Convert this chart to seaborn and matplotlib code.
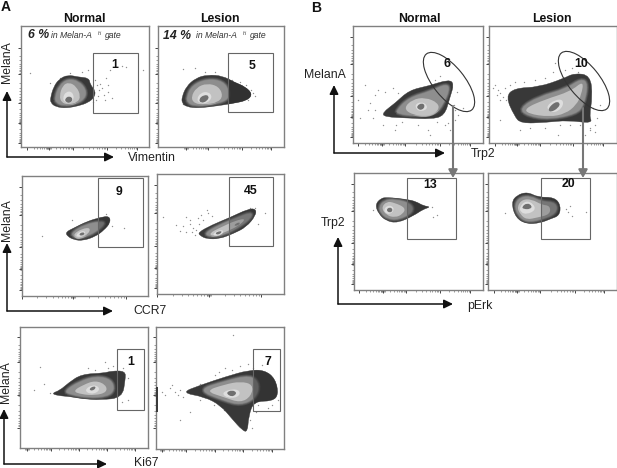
import numpy as np
import pandas as pd
import matplotlib
matplotlib.use("Agg")
import matplotlib.pyplot as plt
from matplotlib.path import Path
from matplotlib.patches import PathPatch, Rectangle, Ellipse
import seaborn as sns

# everything below is read off the 617x468 picture, in picture pixels
# blob = [outer, mid, light, ring, core]
a1n_blob = [
    [(52,97),(55,87),(60,80),(68,76),(78,78),(88,79),(89,85),(94,91),(93,97),(87,102),(78,105),(67,107),(57,106),(52,102)],
    [(56,97),(60,86),(68,80),(78,82),(85,90),(84,98),(76,103),(64,105),(57,102)],
    [(60,96),(63,86),(69,83),(76,87),(80,96),(77,102),(68,104),(62,102)],
    [(63,98),(66,92),(72,92),(74,99),(70,103),(65,102)],
    [(65,99),(69,96),(73,99),(70,103),(66,102)],
]
a1l_blob = [
    [(184,97),(188,87),(197,79),(208,76),(222,77),(233,83),(243,87),(250,94),(245,100),(230,103),(217,105),(200,107),(188,106),(184,102)],
    [(188,97),(193,86),(207,80),(222,82),(228,92),(226,100),(210,104),(195,105),(189,102)],
    [(192,97),(197,88),(207,84),(218,87),(222,96),(217,102),(205,104),(195,103)],
    [(197,99),(201,93),(208,92),(212,97),(207,103),(200,103)],
    [(199,99),(204,95),(209,96),(207,101),(201,103)],
]
a2n_blob = [
    [(67,232),(75,228),(87,222),(100,218),(108,217),(109,223),(103,230),(95,236),(83,240),(75,239),(69,236)],
    [(72,233),(85,225),(100,222),(104,224),(95,232),(83,237),(76,237)],
    [(74,234),(82,229),(90,228),(88,234),(80,238),(76,237)],
    [(76,235),(81,231),(86,232),(83,236),(78,237)],
    [(79,234),(83,232),(85,234),(81,236)],
]
a2l_blob = [
    [(200,232),(213,225),(230,218),(247,210),(254,210),(254,216),(245,227),(233,233),(220,238),(208,238),(202,235)],
    [(206,233),(220,225),(235,219),(250,213),(250,218),(240,226),(225,234),(212,236)],
    [(210,233),(222,227),(235,221),(245,219),(238,226),(225,232),(214,236)],
    [(213,234),(219,230),(224,231),(221,235),(215,236)],
    [(215,233),(220,231),(222,232),(218,235)],
]
a3n_blob = [
    [(54,393),(62,390),(70,383),(82,375),(103,374),(110,372),(123,372),(123,380),(120,397),(100,399),(83,398),(72,396),(60,395)],
    [(66,391),(80,382),(96,377),(110,380),(113,390),(106,396),(88,397),(72,394)],
    [(74,391),(84,385),(95,381),(105,385),(106,392),(95,395),(82,394)],
    [(85,390),(92,385),(99,387),(98,392),(90,394)],
    [(89,389),(94,386),(96,388),(92,391)],
]
a3l_blob = [
    [(185,393),(203,386),(227,378),(248,372),(263,372),(273,380),(276,395),(270,401),(253,401),(248,415),(247,430),(242,428),(233,418),(222,405),(207,397)],
    [(200,390),(225,382),(250,376),(258,385),(254,398),(240,404),(225,400)],
    [(207,391),(225,385),(240,382),(252,385),(250,396),(240,402),(225,397)],
    [(222,393),(232,389),(240,391),(238,397),(228,398)],
    [(226,393),(232,390),(237,393),(232,397)],
]
b1n_blob = [
    [(385,112),(397,103),(410,91),(428,87),(447,81),(452,85),(448,98),(443,115),(430,118),(410,117),(387,116)],
    [(398,110),(410,98),(430,92),(445,85),(448,90),(442,104),(435,113),(415,115),(400,113)],
    [(405,108),(413,100),(425,98),(437,103),(438,110),(428,116),(412,114)],
    [(415,105),(421,102),(427,105),(426,110),(418,111)],
    [(417,106),(422,103),(425,106),(422,110),(418,109)],
]
b1l_blob = [
    [(509,97),(517,89),(540,88),(563,80),(573,75),(588,77),(590,97),(587,115),(590,122),(567,119),(547,121),(523,122),(517,115)],
    [(522,108),(540,97),(565,90),(580,80),(586,85),(582,105),(575,113),(550,118),(530,115)],
    [(527,108),(545,100),(570,92),(582,82),(580,95),(575,105),(565,113),(550,116),(530,113)],
    [(546,107),(555,100),(563,100),(562,108),(553,113)],
    [(548,109),(555,102),(560,103),(558,108),(551,112)],
]
b2n_blob = [
    [(377,205),(382,199),(388,198),(407,200),(415,202),(422,206),(429,207),(422,209),(413,215),(398,222),(387,220),(380,213)],
    [(380,207),(385,201),(395,200),(410,204),(412,212),(398,219),(388,218),(382,213)],
    [(382,208),(387,202),(394,203),(405,208),(402,214),(395,217),(387,215)],
    [(384,210),(387,206),(392,206),(394,210),(390,214),(386,213)],
    [(386,210),(390,207),(393,210),(390,213)],
]
b2l_blob = [
    [(513,203),(518,196),(528,193),(538,198),(553,198),(559,205),(558,215),(550,218),(540,222),(527,223),(517,217)],
    [(516,205),(521,198),(531,197),(540,202),(555,203),(555,213),(540,219),(527,221),(519,215)],
    [(518,207),(523,200),(532,200),(541,205),(549,206),(549,214),(537,217),(527,219),(521,214)],
    [(520,207),(526,201),(533,204),(535,210),(527,214),(521,212)],
    [(522,207),(527,203),(532,206),(530,209),(524,209)],
]
a2l_second_core = [(234,225),(239,222),(240,224),(236,226)]

# stray events around the populations
a1n_dots = [(30,73),(50,83),(60,78),(70,73),(82,72),(88,70),(95,80),(97,85),(99,90),(102,88),(104,95),(108,92),(98,96),(96,100),(106,78),(110,70),(122,66),(126,67),(143,70),(100,84),(105,100),(112,98),(93,102),(108,85)]
a1l_dots = [(183,69),(195,68),(205,72),(215,72),(232,80),(240,82),(246,85),(251,90),(253,93),(255,96),(183,104),(248,100),(236,84)]
a2n_dots = [(42,236),(72,220),(124,228),(106,214),(112,226)]
a2l_dots = [(163,217),(176,225),(180,231),(186,217),(190,224),(192,232),(193,228),(195,235),(199,224),(201,215),(207,210),(208,213),(196,230),(190,220),(203,220),(186,232),(183,226),(198,218),(212,216),(265,213),(258,224),(250,208),(255,208)]
a3n_dots = [(40,367),(34,390),(50,393),(44,384),(88,368),(95,370),(105,362),(113,366),(123,368),(128,378),(128,400),(122,402),(108,368)]
a3l_dots = [(170,388),(175,392),(180,390),(165,395),(172,385),(178,395),(183,397),(162,392),(200,384),(215,375),(225,368),(232,370),(240,366),(248,364),(253,368),(262,365),(275,385),(278,400),(272,405),(268,408),(258,405),(256,412),(232,410),(224,410),(214,405),(200,400),(190,412),(180,420),(219,372),(235,375),(250,420),(252,428),(233,335),(284,328)]
b1n_dots = [(358,100),(365,85),(370,103),(375,95),(378,90),(368,110),(373,118),(385,92),(393,88),(398,93),(383,125),(396,125),(402,122),(418,125),(428,130),(437,122),(448,123),(455,120),(458,115),(454,105),(457,92),(435,80),(440,76),(445,125),(430,135),(450,130),(395,130),(455,110),(463,108),(375,110),(360,118)]
b1l_dots = [(495,85),(498,90),(500,93),(503,97),(506,100),(493,88),(497,95),(510,85),(505,88),(510,105),(500,100),(515,82),(524,82),(535,80),(545,78),(553,72),(565,70),(572,68),(578,72),(555,63),(530,128),(545,128),(560,125),(570,125),(580,125),(590,128),(595,125),(597,118),(593,108),(590,130),(585,135),(595,132),(600,105),(558,135),(500,120),(520,130)]
b2n_dots = [(432,207),(433,217),(437,215),(373,210)]
b2l_dots = [(566,209),(568,212),(572,216),(586,212),(570,206),(505,213)]

# gates in pixels
a1n_gate = (93, 53, 138, 113)
a1l_gate = (228, 53, 273, 112)
a2n_gate = (98, 178, 143, 247)
a2l_gate = (229, 177, 273, 246)
a3n_gate = (117, 349, 144, 410)
a3l_gate = (253, 349, 280, 411)
b2n_gate = (407, 178, 456, 239)
b2l_gate = (541, 178, 590, 239)
b1n_ellipse = (449, 82)
b1l_ellipse = (584, 81)

LAYER_COLORS = ["#383838", "#8e8e8e", "#c2c2c2", "#dedede", "#707070"]
SPINE = "#808080"


def smooth_path(pts, grow=1.07):
    """Closed quadratic curve with the points as control points; grown a bit since the curve cuts corners."""
    pts = np.array(pts, dtype=float)
    centre = pts.mean(axis=0)
    pts = centre + (pts - centre) * grow
    mids = (pts + np.roll(pts, -1, axis=0)) / 2
    verts = [mids[-1]]
    codes = [Path.MOVETO]
    for p, m in zip(pts, mids):
        verts += [p, m]
        codes += [Path.CURVE3, Path.CURVE3]
    return Path(verts, codes)


def draw_blob(ax, blob, gate=None, gate_dark=0.0):
    outer = PathPatch(smooth_path(blob[0]), fc=LAYER_COLORS[0], ec=LAYER_COLORS[0], lw=0.3, zorder=3)
    ax.add_patch(outer)
    # soft shading from dark rim into the light middle
    halos = [
        (1, 3.5, "#4a4a4a"), (1, 2.4, "#5c5c5c"), (1, 1.4, "#707070"), (1, 0.7, "#808080"),
        (2, 1.6, "#a4a4a4"), (2, 0.8, "#b4b4b4"),
    ]
    for idx, lw, col in halos:
        halo = PathPatch(smooth_path(blob[idx]), fc=col, ec=col, lw=lw, zorder=3.1)
        ax.add_patch(halo)
        halo.set_clip_path(outer)
    for idx in range(1, 5):
        fill = PathPatch(smooth_path(blob[idx]), fc=LAYER_COLORS[idx], ec="none", zorder=3.2 + idx / 10)
        ax.add_patch(fill)
    if gate is not None and gate_dark > 0:
        x0, y0, x1, y1 = gate
        shade = Rectangle((x0, y0), x1 - x0, y1 - y0, fc="#303030", ec="none", alpha=gate_dark, zorder=3.8)
        ax.add_patch(shade)
        shade.set_clip_path(outer)


def log_ticks(majors):
    """Minor tick spots between decades, the way the cytometry axes have them."""
    minors = []
    fracs = np.log10(np.arange(2, 10))
    for a, b in zip(majors[:-1], majors[1:]):
        minors += list(a + (b - a) * fracs)
    return minors


def make_panel(fig, box, xmajor, ymajor, xdense, ydense, blob, dots, gate=None, gate_dark=0.0):
    l, t, r, b = box
    ax = fig.add_axes([l / 617, 1 - b / 468, (r - l) / 617, (b - t) / 468])
    ax.set_xlim(l, r)
    ax.set_ylim(b, t)
    df = pd.DataFrame(dots, columns=["x", "y"])
    sns.scatterplot(data=df, x="x", y="y", ax=ax, s=1.0, color="#909090", linewidth=0, zorder=2)
    draw_blob(ax, blob, gate, gate_dark)
    if gate is not None:
        x0, y0, x1, y1 = gate
        ax.add_patch(Rectangle((x0, y0), x1 - x0, y1 - y0, fc="none", ec="#666666", lw=0.8, zorder=4))
    ax.set_xlabel("")
    ax.set_ylabel("")
    ax.set_xticks(xmajor)
    ax.set_yticks(ymajor)
    ax.set_xticks(log_ticks(xmajor) + [xdense - 1, xdense + 1, xdense - 2, xdense + 2], minor=True)
    ax.set_yticks(log_ticks(ymajor) + [ydense - 1, ydense + 1], minor=True)
    ax.tick_params(which="major", length=2.5, width=0.7, color="#444444", labelbottom=False, labelleft=False, bottom=True, left=True, pad=0)
    ax.tick_params(which="minor", length=1.3, width=0.45, color="#666666", bottom=True, left=True)
    ax.grid(False)
    for sp in ax.spines.values():
        sp.set_color(SPINE)
        sp.set_linewidth(1.0)
    return ax


def axis_arrows(over, x0, y0, ytip, xtip):
    style = dict(arrowstyle="-|>,head_width=0.22,head_length=0.45", color="#111111", lw=1.1, shrinkA=0, shrinkB=0)
    over.annotate("", xy=(x0, ytip), xytext=(x0, y0), arrowprops=style)
    over.annotate("", xy=(xtip, y0), xytext=(x0, y0), arrowprops=style)


sns.set_theme(style="white")
plt.rcParams["font.family"] = ["Liberation Sans", "DejaVu Sans"]

fig = plt.figure(figsize=(6.17, 4.68), dpi=100, facecolor="white")

make_panel(fig, (21, 26, 149, 147), [27, 49, 73, 107, 137], [48, 74, 103, 123, 143], 49, 123, a1n_blob, a1n_dots, a1n_gate)
make_panel(fig, (158, 26, 284, 147), [186, 208, 242, 271], [48, 74, 103, 123, 143], 186, 123, a1l_blob, a1l_dots, a1l_gate, 0.85)
make_panel(fig, (22, 176, 148, 296), [22, 73, 126], [187, 215, 247, 269, 290], 73, 269, a2n_blob, a2n_dots, a2n_gate, 0.35)
ax = make_panel(fig, (157, 174, 284, 294), [157, 209, 261], [185, 213, 246, 268, 288], 209, 268, a2l_blob, a2l_dots, a2l_gate, 0.25)
ax.add_patch(PathPatch(smooth_path(a2l_second_core), fc=LAYER_COLORS[4], ec="none", zorder=3.9))
make_panel(fig, (20, 327, 148, 448), [27, 51, 79, 107, 135], [337, 362, 395, 428], 27, 395, a3n_blob, a3n_dots, a3n_gate)
ax = make_panel(fig, (156, 327, 284, 449), [162, 186, 215, 243, 272], [337, 362, 395, 428], 162, 395, a3l_blob, a3l_dots, a3l_gate, 0.5)
ax.add_patch(Rectangle((156, 387), 2.5, 25, fc="#3a3a3a", ec="none", zorder=3))

ax = make_panel(fig, (353, 26, 483, 143), [358, 382, 405, 440, 470], [37, 64, 96, 117, 137], 382, 117, b1n_blob, b1n_dots)
ax.add_patch(Ellipse(b1n_ellipse, 72, 31, angle=51, fc="none", ec="#333333", lw=0.8, zorder=4))
ax = make_panel(fig, (489, 26, 617, 143), [495, 517, 540, 573, 603], [37, 64, 96, 117, 137], 517, 117, b1l_blob, b1l_dots)
ax.add_patch(Ellipse(b1l_ellipse, 72, 31, angle=51, fc="none", ec="#333333", lw=0.8, zorder=4))
make_panel(fig, (354, 173, 483, 290), [359, 383, 406, 440, 470], [184, 211, 243, 264, 284], 383, 264, b2n_blob, b2n_dots, b2n_gate, 0.3)
make_panel(fig, (488, 173, 617, 290), [494, 517, 540, 575, 604], [184, 211, 243, 264, 284], 517, 264, b2l_blob, b2l_dots, b2l_gate, 0.25)

# overlay in picture pixels for titles, labels and arrows
over = fig.add_axes([0, 0, 1, 1], zorder=10)
over.set_xlim(0, 617)
over.set_ylim(468, 0)
over.axis("off")
over.patch.set_alpha(0)

for x, y, s in [(84, 19, "Normal"), (220, 19, "Lesion"), (419, 19, "Normal"), (552, 19, "Lesion")]:
    over.text(x, y, s, ha="center", va="center", fontsize=8.8, fontweight="bold", color="#111111")
over.text(6, 7, "A", ha="center", va="center", fontsize=10, fontweight="bold", color="#111111")
over.text(316, 8, "B", ha="center", va="center", fontsize=10, fontweight="bold", color="#111111")

# gate percentages
for x, y, s in [(115, 65, "1"), (252, 66, "5"), (119, 192, "9"), (251, 191, "45"), (131, 362, "1"), (268, 362, "7"),
                (447, 64, "6"), (581, 64, "10"), (430, 185, "13"), (568, 184, "20")]:
    over.text(x, y, s, ha="center", va="center", fontsize=8.8, fontweight="bold", color="#111111")

over.text(28, 35, "6 %", ha="left", va="center", fontsize=8.8, fontweight="bold", style="italic", color="#222222")
over.text(51, 36, "in Melan-A", ha="left", va="center", fontsize=6.2, style="italic", color="#333333")
over.text(98, 33.5, "hi", ha="left", va="center", fontsize=3.8, style="italic", color="#333333")
over.text(105, 36, "gate", ha="left", va="center", fontsize=6.2, style="italic", color="#333333")
over.text(163, 36, "14 %", ha="left", va="center", fontsize=8.8, fontweight="bold", style="italic", color="#222222")
over.text(196, 36, "in Melan-A", ha="left", va="center", fontsize=6.2, style="italic", color="#333333")
over.text(243, 33.5, "hi", ha="left", va="center", fontsize=3.8, style="italic", color="#333333")
over.text(250, 36, "gate", ha="left", va="center", fontsize=6.2, style="italic", color="#333333")

for x, y in [(7, 62), (7, 220), (6, 382)]:
    over.text(x, y, "MelanA", ha="center", va="center", rotation=90, fontsize=8.8, color="#222222")
for x, y, s in [(152, 158, "Vimentin"), (150, 311, "CCR7"), (146, 463, "Ki67"), (325, 75, "MelanA"),
                (483, 154, "Trp2"), (333, 223, "Trp2"), (480, 306, "pErk")]:
    over.text(x, y, s, ha="center", va="center", fontsize=8.8, color="#222222")

axis_arrows(over, 7, 157, 91, 114)
axis_arrows(over, 7, 311, 243, 113)
axis_arrows(over, 4, 464, 409, 107)
axis_arrows(over, 334, 153, 85, 445)
axis_arrows(over, 338, 304, 237, 453)

gate_arrow = dict(arrowstyle="-|>,head_width=0.22,head_length=0.4", color="#777777", lw=1.5, shrinkA=0, shrinkB=0)
over.annotate("", xy=(453, 178), xytext=(453, 106), arrowprops=gate_arrow)
over.annotate("", xy=(583, 178), xytext=(583, 108), arrowprops=gate_arrow)

fig.savefig("out.png", dpi=100)
